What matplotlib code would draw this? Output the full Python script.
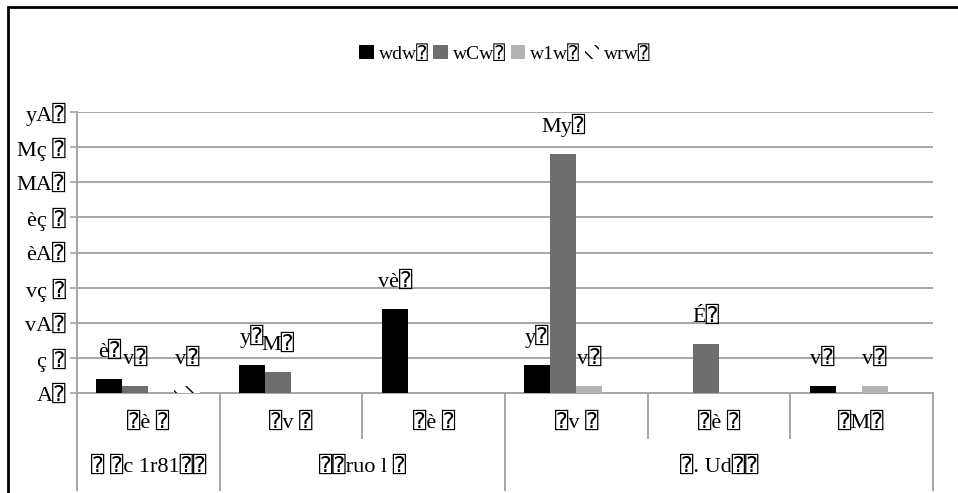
import matplotlib
matplotlib.use("Agg")
import matplotlib.pyplot as plt
from matplotlib.patches import Rectangle, Patch
from matplotlib.transforms import blended_transform_factory
import numpy as np

# ---- data ----
T = "\u2370"  # tofu-like box glyph seen in the reference
series_names = ["wdw" + T, "wCw" + T, "w1w" + T, "wrw" + T]
level1_labels = [T + "è " + T, T + "v " + T, T + "è " + T, T + "v " + T, T + "è " + T, T + "M" + T]
level2_labels = [T + " " + T + "c 1r81" + T + T, T + T + "ruo l " + T, T + ". Ud" + T + T]
level2_spans = [1, 2, 3]
s1 = [2, 4, 12, 4, 0, 1]
s2 = [1, 3, 0, 34, 7, 0]
s3 = [0, 0, 0, 1, 0, 1]
s4 = [1, 0, 0, 0, 0, 0]
yticks = [0, 5, 10, 15, 20, 25, 30, 35, 40]
ytick_labels = ["A" + T, "ç " + T, "vA" + T, "vç " + T, "èA" + T, "èç " + T, "MA" + T, "Mç " + T, "yA" + T]
digit_map = {"0": "A", "1": "v", "2": "è", "3": "M", "4": "y", "5": "ç", "6": "6", "7": "É", "8": "8", "9": "9"}

FONT = ["Liberation Serif", "DejaVu Sans Mono", "DejaVu Sans"]
plt.rcParams["font.family"] = FONT
FS = 16

colors = ["#000000", "#6e6e6e", "#b3b3b3", "#ffffff"]
hatches = [None, None, None, "\\\\"]

W, H = 958, 493
fig = plt.figure(figsize=(W / 100, H / 100), dpi=100)
ax = fig.add_axes([77 / W, 100 / H, 856 / W, 281 / H])

x = np.arange(len(level1_labels))
bw = 0.182
grey = "#a6a6a6"
all_series = [s1, s2, s3, s4]
for i, vals in enumerate(all_series):
    xs = x + (i - 1.5) * bw
    ax.bar(xs, vals, width=bw, color=colors[i], hatch=hatches[i],
           edgecolor="#000000" if hatches[i] else colors[i], linewidth=0, zorder=3)
    for xi, v in zip(xs, vals):
        if v:
            lab = "".join(digit_map[c] for c in str(v)) + T
            ax.annotate(lab, (xi, v), xytext=(0, 12), textcoords="offset points",
                        ha="center", va="bottom", fontsize=FS, family=FONT)

ax.set_xlim(-0.5, len(x) - 0.5)
ax.set_ylim(0, 40)
ax.set_yticks(yticks)
ax.set_yticklabels(ytick_labels, fontsize=FS)
ax.tick_params(axis="y", length=5, color=grey, width=1.2, pad=3)
ax.set_xticks([])
ax.grid(axis="y", color=grey, linewidth=1.4, zorder=0)
ax.set_axisbelow(True)
for s in ["top", "right"]:
    ax.spines[s].set_visible(False)
for s in ["left", "bottom"]:
    ax.spines[s].set_color(grey)
    ax.spines[s].set_linewidth(1.4)

# category axis (two-level)
tr = blended_transform_factory(ax.transData, ax.transAxes)
y_long = (H - 490 - 100) / 281
y_short = (H - 438 - 100) / 281
y_l1 = (H - 423 - 100) / 281
y_l2 = (H - 467 - 100) / 281
for xi, lab in zip(x, level1_labels):
    ax.text(xi, y_l1, lab, transform=tr, ha="center", va="center", fontsize=FS, family=FONT)
start = 0
bounds = [-0.5]
for lab, span in zip(level2_labels, level2_spans):
    ax.text(start + (span - 1) / 2, y_l2, lab, transform=tr, ha="center", va="center",
            fontsize=FS, family=FONT)
    start += span
    bounds.append(start - 0.5)
for b in np.arange(-0.5, len(x), 1.0):
    yb = y_long if any(abs(b - bb) < 1e-9 for bb in bounds) else y_short
    ax.plot([b, b], [0, yb], transform=tr, color=grey, linewidth=1.4, clip_on=False)

# legend
handles = [Patch(facecolor=colors[i], edgecolor="#000000" if hatches[i] else colors[i],
                 hatch=hatches[i], linewidth=0) for i in range(4)]
ax.legend(handles, series_names, loc="center", bbox_to_anchor=(0.5, (H - 54 - 100) / 281),
          ncol=4, frameon=False, handlelength=0.75, handleheight=0.75,
          handletextpad=0.25, columnspacing=0.25, prop={"family": FONT, "size": 14})

# outer chart frame (cropped at right/bottom)
fig.patches.append(Rectangle((8 / W, -0.05), 1.2, (H - 7) / H + 0.05, transform=fig.transFigure,
                             fill=False, edgecolor="#000000", linewidth=2, clip_on=False))

fig.savefig("out.png", dpi=100)
